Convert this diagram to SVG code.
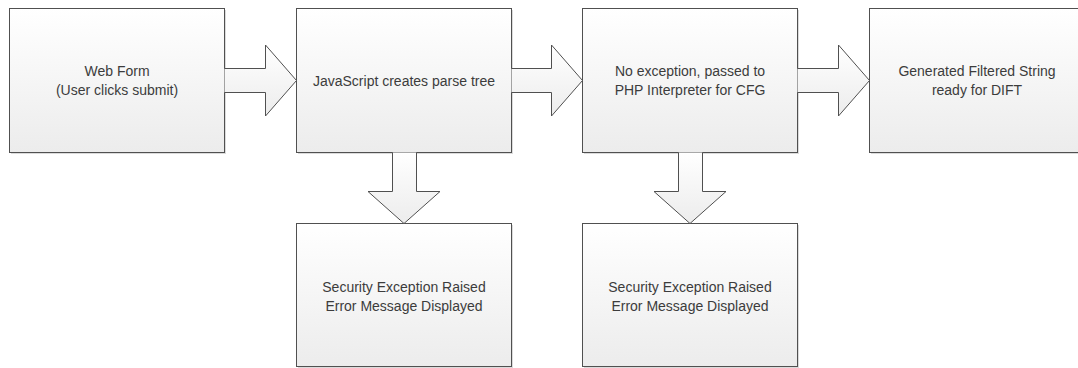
<svg xmlns="http://www.w3.org/2000/svg" width="1078" height="368" viewBox="0 0 1078 368">
<style>
.box{fill:url(#g);stroke:#505050;stroke-width:1}
.sh{fill:#bdbdbd;opacity:0.55}
.arr{fill:url(#g);stroke:#505050;stroke-width:1;stroke-linejoin:miter}
text{font-family:"Liberation Sans",Arial,sans-serif;font-size:14px;fill:#3c3c3c;text-anchor:middle}
</style>
<defs>
<linearGradient id="g" x1="0" y1="0" x2="0" y2="1">
<stop offset="0" stop-color="#ffffff"/>
<stop offset="1" stop-color="#ececec"/>
</linearGradient>
</defs>
<rect width="1078" height="368" fill="#ffffff"/>
<g id="n1">
<rect class="sh" x="11" y="10" width="215" height="144"/>
<rect class="box" x="9.5" y="8.5" width="215" height="144"/>
<text x="117" y="76">Web Form</text>
<text x="117" y="94.5">(User clicks submit)</text>
</g>
<g id="n2">
<rect class="sh" x="298" y="10" width="215" height="144"/>
<rect class="box" x="296.5" y="8.5" width="215" height="144"/>
<text x="404" y="86">JavaScript creates parse tree</text>
</g>
<g id="n3">
<rect class="sh" x="584" y="10" width="215" height="144"/>
<rect class="box" x="582.5" y="8.5" width="215" height="144"/>
<text x="690" y="76">No exception, passed to</text>
<text x="690" y="94.5">PHP Interpreter for CFG</text>
</g>
<g id="n4">
<rect class="sh" x="871" y="10" width="215" height="144"/>
<rect class="box" x="869.5" y="8.5" width="215" height="144"/>
<text x="977" y="76">Generated Filtered String</text>
<text x="977" y="94.5">ready for DIFT</text>
</g>
<g id="n5">
<rect class="sh" x="298" y="225" width="215" height="143"/>
<rect class="box" x="296.5" y="223.5" width="215" height="143"/>
<text x="404" y="292">Security Exception Raised</text>
<text x="404" y="310.5">Error Message Displayed</text>
</g>
<g id="n6">
<rect class="sh" x="584" y="225" width="215" height="143"/>
<rect class="box" x="582.5" y="223.5" width="215" height="143"/>
<text x="690" y="292">Security Exception Raised</text>
<text x="690" y="310.5">Error Message Displayed</text>
</g>
<g id="connectors">
<path class="arr" d="M224.5,68.5 H265.5 V45 L296.5,80.5 L265.5,116 V92.5 H224.5"/>
<path class="arr" d="M511.5,68.5 H551.5 V45 L582.5,80.5 L551.5,116 V92.5 H511.5"/>
<path class="arr" d="M797.5,68.5 H838.5 V45 L869.5,80.5 L838.5,116 V92.5 H797.5"/>
<path class="arr" d="M392.5,152.5 V191.5 H368 L404,223.5 L440,191.5 H416.5 V152.5"/>
<path class="arr" d="M678.5,152.5 V191.5 H654 L690,223.5 L726,191.5 H702.5 V152.5"/>
</g>
</svg>
